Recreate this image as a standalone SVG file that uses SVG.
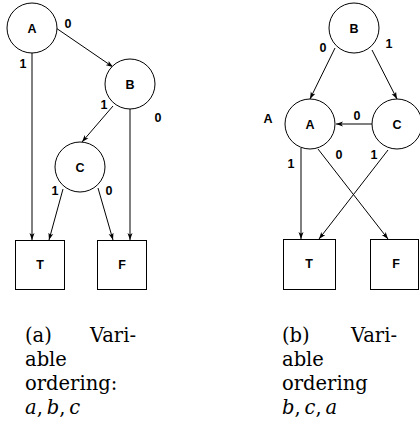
<svg xmlns="http://www.w3.org/2000/svg" width="420" height="424" viewBox="0 0 420 424">
<defs>
<marker id="ah" markerWidth="8" markerHeight="6" refX="7" refY="3" orient="auto" markerUnits="userSpaceOnUse">
<path d="M0,0.5 L7,3 L0,5.5 L1.8,3 z" fill="#000"/>
</marker>
<style>
.n{fill:#fff;stroke:#000;stroke-width:1}
.e{stroke:#000;stroke-width:1;fill:none;marker-end:url(#ah)}
.t{font-family:"Liberation Sans",Arial,sans-serif;font-weight:bold;font-size:12.5px;text-anchor:middle;fill:#000}
.c{font-family:"DejaVu Serif","Liberation Serif",serif;font-size:19.5px;fill:#000}
.i{font-style:italic}
</style>
</defs>
<rect width="420" height="424" fill="#fff"/>
<g id="connectors">
<line class="e" x1="56" y1="28" x2="113" y2="67"/>
<line class="e" x1="32" y1="53" x2="32" y2="240"/>
<line class="e" x1="130" y1="109" x2="130" y2="240"/>
<line class="e" x1="113" y1="106" x2="82" y2="142"/>
<line class="e" x1="63" y1="189" x2="49" y2="240"/>
<line class="e" x1="98" y1="188" x2="113" y2="240"/>
<line class="e" x1="335" y1="48" x2="310" y2="99"/>
<line class="e" x1="372" y1="50" x2="397" y2="99"/>
<line class="e" x1="372" y1="124" x2="336" y2="124"/>
<line class="e" x1="301" y1="148" x2="301" y2="239"/>
<line class="e" x1="318" y1="149" x2="388" y2="239"/>
<line class="e" x1="388" y1="150" x2="319" y2="239"/>
<text class="t" x="68" y="28">0</text>
<text class="t" x="23" y="68">1</text>
<text class="t" x="104" y="109">1</text>
<text class="t" x="158" y="122">0</text>
<text class="t" x="55" y="195">1</text>
<text class="t" x="109" y="195">0</text>
<text class="t" x="323" y="52">0</text>
<text class="t" x="389" y="48">1</text>
<text class="t" x="357" y="120">0</text>
<text class="t" x="291" y="168">1</text>
<text class="t" x="339" y="159">0</text>
<text class="t" x="374" y="159">1</text>
</g>
<g id="a_A"><circle class="n" cx="32" cy="28" r="25"/><text class="t" x="32" y="33">A</text></g>
<g id="a_B"><circle class="n" cx="130" cy="84" r="25"/><text class="t" x="130" y="89">B</text></g>
<g id="a_C"><circle class="n" cx="80" cy="167" r="25"/><text class="t" x="80" y="172">C</text></g>
<g id="a_T"><rect class="n" x="15.5" y="240.5" width="49" height="49"/><text class="t" x="40" y="269">T</text></g>
<g id="a_F"><rect class="n" x="97.5" y="240.5" width="49" height="49"/><text class="t" x="122" y="269">F</text></g>
<g id="b_B"><circle class="n" cx="354" cy="28" r="25"/><text class="t" x="354" y="33">B</text></g>
<g id="b_A"><circle class="n" cx="310" cy="124" r="25"/><text class="t" x="310" y="129">A</text></g>
<text class="t" x="268" y="123">A</text>
<g id="b_C"><circle class="n" cx="397" cy="124" r="25"/><text class="t" x="397" y="129">C</text></g>
<g id="b_T"><rect class="n" x="283.5" y="239.5" width="52" height="50"/><text class="t" x="309" y="268">T</text></g>
<g id="b_F"><rect class="n" x="370.5" y="239.5" width="48" height="50"/><text class="t" x="396" y="268">F</text></g>
<g id="caption_a">
<text class="c" x="25" y="342">(a)</text>
<text class="c" x="136" y="342" text-anchor="end">Vari-</text>
<text class="c" x="25" y="366">able</text>
<text class="c" x="25" y="390">ordering:</text>
<text class="c" x="25" y="414"><tspan class="i">a</tspan>,&#8201;<tspan class="i">b</tspan>,&#8201;<tspan class="i">c</tspan></text>
</g>
<g id="caption_b">
<text class="c" x="282" y="342">(b)</text>
<text class="c" x="397" y="342" text-anchor="end">Vari-</text>
<text class="c" x="282" y="366">able</text>
<text class="c" x="282" y="390">ordering</text>
<text class="c" x="282" y="414"><tspan class="i">b</tspan>,&#8201;<tspan class="i">c</tspan>,&#8201;<tspan class="i">a</tspan></text>
</g>
</svg>
